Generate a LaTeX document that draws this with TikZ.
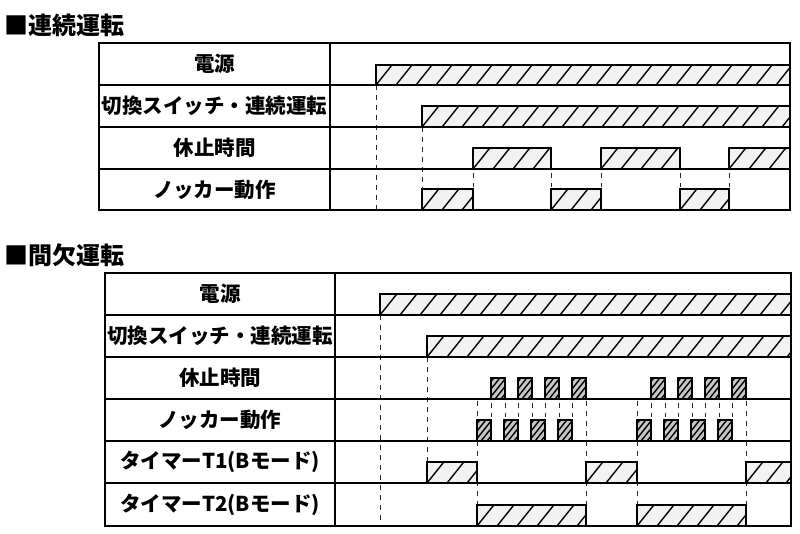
\documentclass[tikz,border=0pt]{standalone}
\usepackage{fontspec}
\setmainfont{Noto Sans CJK JP}
\newcommand\hatchbar[6]{%
  \fill[#6] (#1,#3) rectangle (#2,#4);
  \begin{scope}
    \clip (#1,#3) rectangle (#2,#4);
    \pgfmathtruncatemacro\hbn{(#2-#1)/#5+4}
    \foreach \i in {0,...,\hbn}{
      \pgfmathsetmacro\hbx{#1-20+\i*#5}
      \pgfmathsetmacro\hbxe{\hbx+0.8*(#4-#3)}
      \draw[hatchline] (\hbx,#4) -- (\hbxe,#3);
    }
  \end{scope}
  \draw[barline] (#1,#4) -- (#1,#3) -- (#2,#3) -- (#2,#4);
}
\tikzset{
  gridline/.style={line width=1.7pt,black},
  barline/.style={line width=1.7pt,black,line join=miter},
  hatchline/.style={line width=1.4pt,black},
  bigfill/.style={fill=black!5},
  smallfill/.style={fill=black!22},
  dsh/.style={line width=0.9pt,black!85,dash pattern=on 5pt off 5pt},
  lbl/.style={font=\bfseries\fontsize{20.5}{24}\selectfont,inner sep=0pt},
  ttl/.style={font=\bfseries\fontsize{24}{28}\selectfont,inner sep=0pt,anchor=west},
}
\begin{document}
\begin{tikzpicture}[x=1pt,y=-1pt]
\useasboundingbox (0,0) rectangle (800,534);
\fill[white] (0,0) rectangle (800,534);
% ---------- titles
\node[ttl] (t1) at (4,25) {■連続運転};
\node[ttl] (t2) at (4,255) {■間欠運転};
% ---------- top table
\draw[dsh] (376,85) -- (376,210);
\draw[dsh] (422,127) -- (422,189);
\foreach \xx in {473,551,601,680,729} \draw[dsh] (\xx,173) -- (\xx,187);
\hatchbar{376}{790}{65}{85}{20}{bigfill}
\hatchbar{422}{790}{106}{127}{20}{bigfill}
\hatchbar{473}{551}{148}{169}{20}{bigfill}
\hatchbar{601}{680}{148}{169}{20}{bigfill}
\hatchbar{729}{790}{148}{169}{20}{bigfill}
\hatchbar{422}{473}{189}{210}{20}{bigfill}
\hatchbar{551}{601}{189}{210}{20}{bigfill}
\hatchbar{680}{729}{189}{210}{20}{bigfill}
\draw[gridline] (99,43) rectangle (790,210);
\draw[gridline] (330,43) -- (330,210);
\foreach \yy in {85,127,169} \draw[gridline] (99,\yy) -- (790,\yy);
\node[lbl] (a1) at (214.5,64) {電源};
\node[lbl] (a2) at (214.5,106) {切換スイッチ・連続運転};
\node[lbl] (a3) at (214.5,148) {休止時間};
\node[lbl] (a4) at (214.5,189.5) {ノッカー動作};
% ---------- bottom table
\draw[dsh] (380,315) -- (380,526);
\draw[dsh] (427,357) -- (427,462);
\foreach \xx in {477,586,637,746} \draw[dsh] (\xx,401) -- (\xx,505);
\foreach \xx in {491,505,518,532,545,559,572,651,665,678,692,705,719,732}
  \draw[dsh] (\xx,403) -- (\xx,417);
\hatchbar{380}{791}{294}{315}{20}{bigfill}
\hatchbar{427}{791}{336}{357}{20}{bigfill}
\foreach \k in {0,1,2,3}{
  \pgfmathsetmacro\ka{477+27*\k}\pgfmathsetmacro\kb{\ka+14}
  \pgfmathsetmacro\kc{637+27*\k}\pgfmathsetmacro\kd{\kc+14}
  \pgfmathsetmacro\ra{491+27*\k}\pgfmathsetmacro\rb{\ra+14}
  \pgfmathsetmacro\rc{651+27*\k}\pgfmathsetmacro\rd{\rc+14}
  \hatchbar{\ka}{\kb}{420}{441}{6}{smallfill}
  \hatchbar{\kc}{\kd}{420}{441}{6}{smallfill}
  \hatchbar{\ra}{\rb}{378}{399}{6}{smallfill}
  \hatchbar{\rc}{\rd}{378}{399}{6}{smallfill}
}
\hatchbar{427}{477}{462}{483}{20}{bigfill}
\hatchbar{586}{637}{462}{483}{20}{bigfill}
\hatchbar{746}{791}{462}{483}{20}{bigfill}
\hatchbar{477}{586}{505}{526}{20}{bigfill}
\hatchbar{637}{746}{505}{526}{20}{bigfill}
\draw[gridline] (105,273) rectangle (791,526);
\draw[gridline] (335,273) -- (335,526);
\foreach \yy in {315,357,399,441,483} \draw[gridline] (105,\yy) -- (791,\yy);
\node[lbl] (b1) at (220,294) {電源};
\node[lbl] (b2) at (220,336) {切換スイッチ・連続運転};
\node[lbl] (b3) at (220,378) {休止時間};
\node[lbl] (b4) at (220,420) {ノッカー動作};
\node[lbl] (b5) at (220,462) {タイマーT1(Bモード)};
\node[lbl] (b6) at (220,504.5) {タイマーT2(Bモード)};
\end{tikzpicture}
\end{document}
